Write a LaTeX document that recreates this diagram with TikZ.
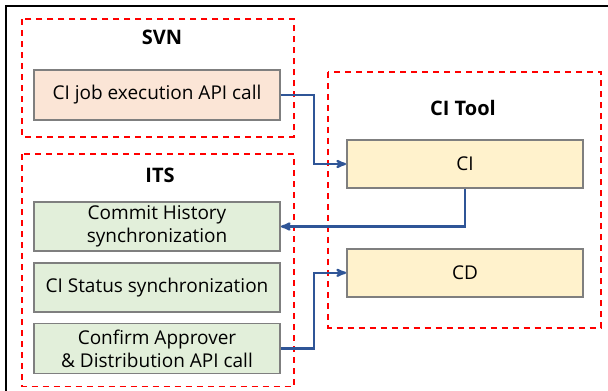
\documentclass[tikz,border=0pt]{standalone}
\usepackage{fontspec}
\setmainfont{Open Sans}
\usetikzlibrary{arrows, positioning, calc}

\definecolor{dashred}{HTML}{FF0000}
\definecolor{boxgray}{HTML}{7F7F7F}
\definecolor{svnfill}{HTML}{FBE5D6}
\definecolor{itsfill}{HTML}{E2EFDA}
\definecolor{cifill}{HTML}{FFF2CC}
\definecolor{flowblue}{HTML}{2F5597}

\tikzset{
  jobbox/.style={rectangle, draw=boxgray, line width=1.8pt, align=center, inner sep=0pt},
  group/.style={draw=dashred, line width=1.8pt, dash pattern=on 6pt off 5pt},
  flow/.style={->, draw=flowblue, line width=2.2pt},
  title/.style={font=\bfseries\fontsize{20}{23}\selectfont}
}

\begin{document}
\begin{tikzpicture}[x=1pt, y=1pt, node distance=10pt, >=stealth', font=\fontsize{19}{23.5}\selectfont]
  \useasboundingbox (0,0) rectangle (608,391);
  \draw[line width=2pt] (6,0) -- (6,385) -- (608,385);

  % SVN
  \node[jobbox, fill=svnfill, minimum width=246pt, minimum height=50pt] (job) at (157,296) {CI job execution API call};

  % ITS
  \node[jobbox, fill=itsfill, minimum width=246pt, minimum height=49pt] (commit) at (157,164.5) {Commit History\\synchronization};
  \node[jobbox, fill=itsfill, minimum width=246pt, minimum height=49pt, below=of commit] (status) {CI Status synchronization};
  \node[jobbox, fill=itsfill, minimum width=246pt, minimum height=50pt, below=of status] (confirm) {Confirm Approver\\\& Distribution API call};

  % CI Tool
  \node[jobbox, fill=cifill, minimum width=236pt, minimum height=48pt] (ci) at (465,227) {CI};
  \node[jobbox, fill=cifill, minimum width=236pt, minimum height=48pt, below=59pt of ci] (cd) {CD};

  % Dashed groups and titles
  \draw[group] ($(job.north west)+(-11,50)$) rectangle ($(job.south east)+(13,-16)$);
  \node[title] (svn) at ($(job.north)+(5,32)$) {SVN};
  \draw[group] ($(commit.north west)+(-11,47)$) rectangle ($(confirm.south east)+(13,-12)$);
  \node[title] (its) at ($(commit.north)+(3,26)$) {ITS};
  \draw[group] ($(ci.north west)+(-18,67)$) rectangle ($(cd.south east)+(17,-30)$);
  \node[title] (citool) at ($(ci.north)+(-2,31)$) {CI Tool};

  % Arrows between jobs
  \draw[flow] (job.east) -- ++(33,0) |- (ci.west);
  \draw[flow] (ci.south) |- (commit.east);
  \draw[flow] (confirm.east) -- ++(33,0) |- (cd.west);
\end{tikzpicture}
\end{document}
